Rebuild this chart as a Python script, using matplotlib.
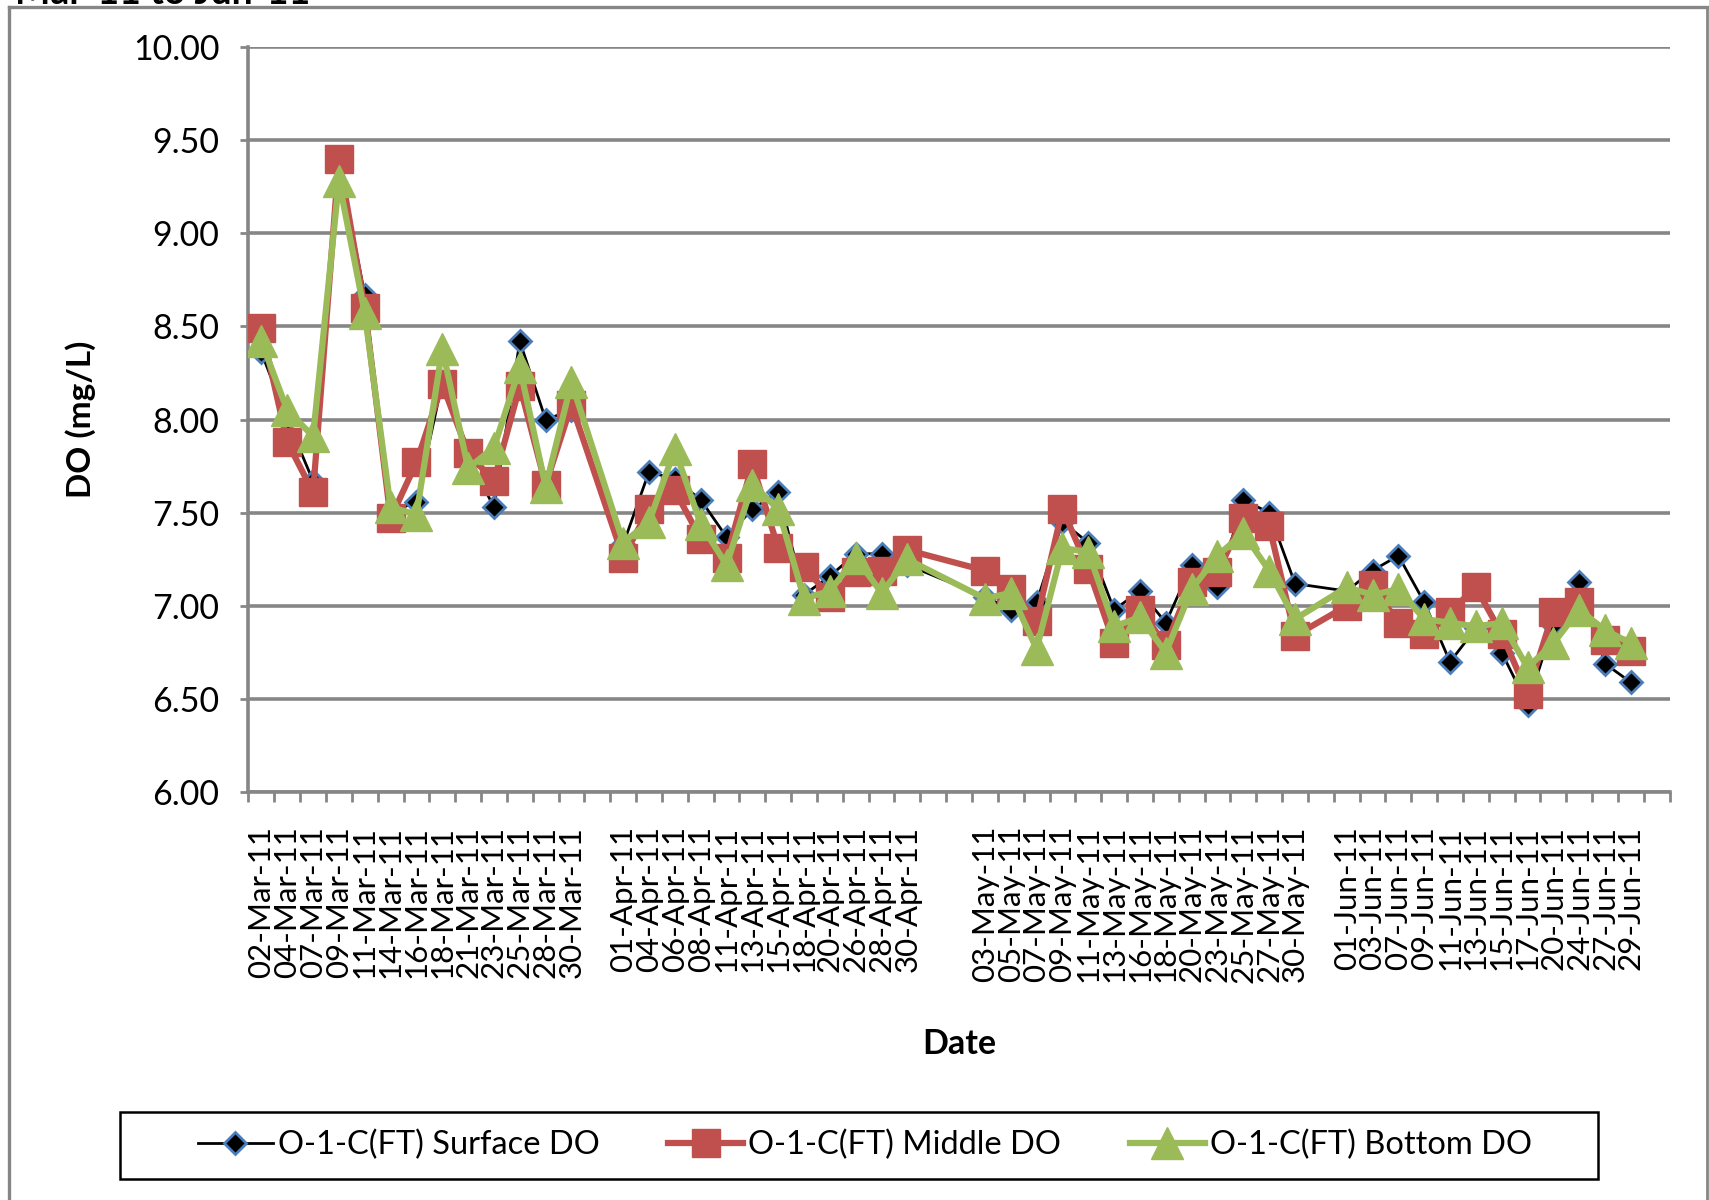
import numpy as np
import matplotlib
matplotlib.use("Agg")
import matplotlib.pyplot as plt
from matplotlib.lines import Line2D
from matplotlib.patches import Rectangle

plt.rcParams['font.family'] = ['Lato', 'DejaVu Sans']

# category axis: blank slots keep the month groups apart
categories = [
    '02-Mar-11', '04-Mar-11', '07-Mar-11', '09-Mar-11', '11-Mar-11', '14-Mar-11', '16-Mar-11',
    '18-Mar-11', '21-Mar-11', '23-Mar-11', '25-Mar-11', '28-Mar-11', '30-Mar-11', '',
    '01-Apr-11', '04-Apr-11', '06-Apr-11', '08-Apr-11', '11-Apr-11', '13-Apr-11', '15-Apr-11',
    '18-Apr-11', '20-Apr-11', '26-Apr-11', '28-Apr-11', '30-Apr-11', '', '',
    '03-May-11', '05-May-11', '07-May-11', '09-May-11', '11-May-11', '13-May-11', '16-May-11',
    '18-May-11', '20-May-11', '23-May-11', '25-May-11', '27-May-11', '30-May-11', '',
    '01-Jun-11', '03-Jun-11', '07-Jun-11', '09-Jun-11', '11-Jun-11', '13-Jun-11', '15-Jun-11',
    '17-Jun-11', '20-Jun-11', '24-Jun-11', '27-Jun-11', '29-Jun-11', '',
]

surface_do = [8.36, 8.00, 7.67, 9.38, 8.67, 7.50, 7.56, 8.20, 7.80, 7.53, 8.42, 8.00, 8.05,
              7.33, 7.72, 7.68, 7.57, 7.37, 7.52, 7.61, 7.06, 7.16, 7.28, 7.28, 7.22,
              7.05, 6.98, 7.02, 7.45, 7.34, 6.98, 7.08, 6.91, 7.22, 7.10, 7.57, 7.50, 7.12,
              7.08, 7.19, 7.27, 7.02, 6.70, 6.88, 6.75, 6.47, 6.90, 7.13, 6.69, 6.59]
middle_do = [8.49, 7.88, 7.61, 9.40, 8.60, 7.47, 7.77, 8.19, 7.82, 7.67, 8.18, 7.65, 8.08,
             7.26, 7.52, 7.62, 7.36, 7.26, 7.76, 7.31, 7.21, 7.05, 7.18, 7.19, 7.30,
             7.19, 7.09, 6.92, 7.52, 7.20, 6.80, 6.98, 6.79, 7.13, 7.18, 7.47, 7.43, 6.84,
             7.00, 7.11, 6.91, 6.85, 6.97, 7.10, 6.85, 6.53, 6.97, 7.02, 6.82, 6.76]
bottom_do = [8.42, 8.05, 7.91, 9.28, 8.57, 7.53, 7.49, 8.38, 7.74, 7.85, 8.28, 7.64, 8.20,
             7.34, 7.45, 7.84, 7.44, 7.22, 7.65, 7.52, 7.04, 7.08, 7.26, 7.07, 7.25,
             7.04, 7.07, 6.77, 7.31, 7.29, 6.89, 6.94, 6.75, 7.09, 7.27, 7.39, 7.19, 6.93,
             7.10, 7.06, 7.09, 6.93, 6.91, 6.89, 6.91, 6.67, 6.80, 6.98, 6.87, 6.80]

series_names = ['O-1-C(FT) Surface DO', 'O-1-C(FT) Middle DO', 'O-1-C(FT) Bottom DO']
y_ticks = [6.0, 6.5, 7.0, 7.5, 8.0, 8.5, 9.0, 9.5, 10.0]

GRID = '#868686'
RED = '#c0504d'
GREEN = '#9bbb59'
BLUE = '#4a7ebb'

ncat = len(categories)
xs = [i for i, c in enumerate(categories) if c]

fig = plt.figure(figsize=(17.09, 12.0), dpi=100)
ax = fig.add_axes([0.1454, 0.3397, 0.8316, 0.6213])

surf_style = dict(color='black', lw=2.0, marker='D', ms=11, mfc='black', mec=BLUE, mew=2.0)
mid_style = dict(color=RED, lw=4.5, marker='s', ms=20, mfc=RED, mec=RED)
bot_style = dict(color=GREEN, lw=4.5, marker='^', ms=23, mfc=GREEN, mec=GREEN)

ax.plot(xs, surface_do, zorder=3, **surf_style)
ax.plot(xs, middle_do, zorder=4, **mid_style)
ax.plot(xs, bottom_do, zorder=5, **bot_style)

ax.set_xlim(-0.5, ncat - 0.5)
ax.set_ylim(6.0, 10.0)
ax.set_yticks(y_ticks)
ax.set_yticklabels([f'{v:.2f}' for v in y_ticks])
ax.yaxis.grid(True, color=GRID, lw=2.6)
ax.set_axisbelow(True)

ax.set_xticks(range(ncat))
ax.set_xticklabels(categories, rotation=90, va='top', ha='center')
ax.set_xticks(np.arange(-0.5, ncat, 1.0), minor=True)
ax.tick_params(axis='x', which='major', length=0, pad=24, labelsize=22.5)
ax.tick_params(axis='x', which='minor', length=7, width=2, color=GRID, direction='out')
ax.tick_params(axis='y', length=6, width=2, color=GRID, pad=15, labelsize=24.5)

for side in ('top', 'right'):
    ax.spines[side].set_visible(False)
for side in ('left', 'bottom'):
    ax.spines[side].set_color(GRID)
    ax.spines[side].set_linewidth(2.6)

ax.set_ylabel('DO (mg/L)', fontsize=24, fontweight='bold')
ax.yaxis.set_label_coords(-0.107, 0.5)
ax.set_xlabel('Date', fontsize=24.5, fontweight='bold')
ax.xaxis.set_label_coords(0.5, -0.316)
ax.xaxis.label.set_va('top')

# chart area frame and the title line clipped by the top edge
fig.add_artist(Line2D([9 / 1709, 9 / 1709], [0, 1 - 7 / 1200], color=GRID, lw=2.4))
fig.add_artist(Line2D([9 / 1709, 1707 / 1709], [1 - 7 / 1200, 1 - 7 / 1200], color=GRID, lw=2.4))
fig.add_artist(Line2D([1707 / 1709, 1707 / 1709], [0, 1 - 7 / 1200], color=GRID, lw=2.0))
fig.text(15 / 1709, 1 - 4 / 1200, 'Mar-11 to Jun-11', fontsize=27, fontweight='bold',
         ha='left', va='baseline')

# legend box drawn separately so the entries can sit centred inside it
fig.add_artist(Rectangle((120 / 1709, 1 - 1179 / 1200), 1478 / 1709, 67 / 1200,
                         transform=fig.transFigure, fill=False, edgecolor='black', lw=1.8))
handles = [Line2D([], [], **surf_style), Line2D([], [], **mid_style), Line2D([], [], **bot_style)]
fig.legend(handles, series_names, ncol=3, loc='center', bbox_to_anchor=(0.506, 0.0455),
           fontsize=23.5, frameon=False, handlelength=2.3, handletextpad=0.15,
           columnspacing=2.1)

fig.savefig('out.png', dpi=100)
